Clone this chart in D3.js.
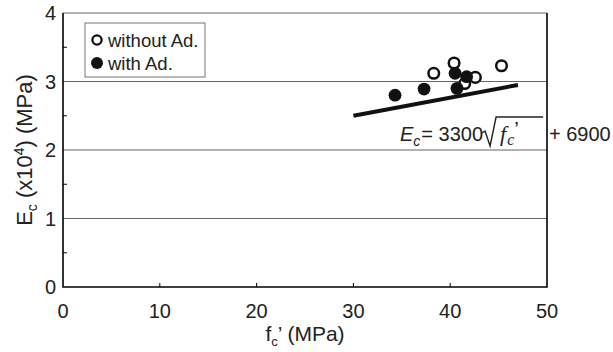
<!DOCTYPE html>
<html lang="en">
  <head>
    <meta charset="UTF-8" />
    <title>Ec vs fc'</title>
    <style>
      html, body { margin: 0; padding: 0; background: #fff; }
      svg { display: block; font-family: "Liberation Sans", Arial, sans-serif; }
    </style>
    <script src="https://cdn.jsdelivr.net/npm/d3@7"></script>
  </head>
  <body>
    <script>
      // values (fc' in MPa, Ec in x10^4 MPa)
      const openX = [38.3, 40.4, 41.5, 42.6, 45.3];
      const openY = [3.12, 3.27, 2.97, 3.06, 3.23];
      const filledX = [34.3, 37.3, 40.5, 40.7, 41.7];
      const filledY = [2.8, 2.89, 3.12, 2.9, 3.07];
      // Ec = 3300 sqrt(fc') + 6900, ends as drawn
      const fitX = [30, 47];
      const fitY = [2.5, 2.95];
      const xTicks = [0, 10, 20, 30, 40, 50];
      const yTicks = [0, 1, 2, 3, 4];
      const legendLabels = ["without Ad.", "with Ad."];

      const width = 613, height = 352;
      const margin = { top: 13, right: 66, bottom: 65, left: 63 };

      const svg = d3
        .select(document.body)
        .append("svg")
        .attr("width", width)
        .attr("height", height);

      const x = d3.scaleLinear().domain([0, 50]).range([margin.left, width - margin.right]);
      const y = d3.scaleLinear().domain([0, 4]).range([height - margin.bottom, margin.top]);

      // grid lines (incl. top border)
      svg
        .append("g")
        .selectAll("line")
        .data([1, 2, 3, 4])
        .join("line")
        .attr("x1", x(0))
        .attr("x2", x(50))
        .attr("y1", (d) => y(d))
        .attr("y2", (d) => y(d))
        .attr("stroke", "#666")
        .attr("stroke-width", 1);

      // minor ticks on y axis, pointing inward
      svg
        .append("g")
        .selectAll("line")
        .data([0.5, 1.5, 2.5, 3.5])
        .join("line")
        .attr("x1", x(0))
        .attr("x2", x(0) + 4)
        .attr("y1", (d) => y(d))
        .attr("y2", (d) => y(d))
        .attr("stroke", "#000");

      // x ticks, inward
      svg
        .append("g")
        .selectAll("line")
        .data([10, 20, 30, 40])
        .join("line")
        .attr("x1", (d) => x(d))
        .attr("x2", (d) => x(d))
        .attr("y1", y(0))
        .attr("y2", y(0) - 4)
        .attr("stroke", "#000");

      // frame: left, bottom, right
      svg
        .append("path")
        .attr("d", `M${x(0)},${y(4)}V${y(0)}H${x(50)}V${y(4)}`)
        .attr("fill", "none")
        .attr("stroke", "#000")
        .attr("stroke-width", 1.6);

      // tick labels
      svg
        .append("g")
        .attr("font-size", 20)
        .attr("fill", "#222")
        .selectAll("text")
        .data(xTicks)
        .join("text")
        .attr("x", (d) => x(d))
        .attr("y", y(0) + 31)
        .attr("text-anchor", "middle")
        .text((d) => d);

      svg
        .append("g")
        .attr("font-size", 20)
        .attr("fill", "#222")
        .selectAll("text")
        .data(yTicks)
        .join("text")
        .attr("x", x(0) - 7)
        .attr("y", (d) => y(d) + 7)
        .attr("text-anchor", "end")
        .text((d) => d);

      // axis titles
      const xt = svg
        .append("text")
        .attr("x", 305)
        .attr("y", 341)
        .attr("font-size", 21)
        .attr("text-anchor", "middle")
        .attr("fill", "#222");
      xt.append("tspan").text("f");
      xt.append("tspan").attr("font-size", 13).attr("dy", 5).text("c");
      xt.append("tspan").attr("dy", -5).text("’ (MPa)");

      const yt = svg
        .append("text")
        .attr("transform", `translate(32,${y(2)}) rotate(-90)`)
        .attr("font-size", 22)
        .attr("text-anchor", "middle")
        .attr("fill", "#222");
      yt.append("tspan").text("E");
      yt.append("tspan").attr("font-size", 14).attr("dy", 5).text("c");
      yt.append("tspan").attr("dy", -5).text(" (x10");
      yt.append("tspan").attr("font-size", 14).attr("dy", -8).text("4");
      yt.append("tspan").attr("dy", 8).text(") (MPa)");

      // fitted line
      svg
        .append("path")
        .datum(d3.zip(fitX, fitY))
        .attr("d", d3.line().x((d) => x(d[0])).y((d) => y(d[1])))
        .attr("stroke", "#111")
        .attr("stroke-width", 4)
        .attr("fill", "none");

      // points
      svg
        .append("g")
        .selectAll("circle")
        .data(d3.zip(openX, openY))
        .join("circle")
        .attr("cx", (d) => x(d[0]))
        .attr("cy", (d) => y(d[1]))
        .attr("r", 5.3)
        .attr("fill", "#fff")
        .attr("stroke", "#111")
        .attr("stroke-width", 2.5);

      svg
        .append("g")
        .selectAll("circle")
        .data(d3.zip(filledX, filledY))
        .join("circle")
        .attr("cx", (d) => x(d[0]))
        .attr("cy", (d) => y(d[1]))
        .attr("r", 6.4)
        .attr("fill", "#111");

      // legend
      const lg = svg.append("g").attr("transform", "translate(85,23)");
      lg.append("rect")
        .attr("width", 120)
        .attr("height", 54)
        .attr("fill", "#fff")
        .attr("stroke", "#777")
        .attr("stroke-width", 1);
      lg.selectAll("g.item")
        .data(legendLabels)
        .join("g")
        .attr("class", "item")
        .attr("transform", (d, i) => `translate(0,${17 + i * 23})`)
        .each(function (d, i) {
          const g = d3.select(this);
          if (i === 0) {
            g.append("circle").attr("cx", 12).attr("r", 4.6)
              .attr("fill", "#fff").attr("stroke", "#111").attr("stroke-width", 2.3);
          } else {
            g.append("circle").attr("cx", 12).attr("r", 6).attr("fill", "#111");
          }
          g.append("text")
            .attr("x", 23)
            .attr("y", 6.5)
            .attr("font-size", 18.5)
            .attr("fill", "#222")
            .text(d);
        });

      // equation
      const eq = svg.append("g").attr("fill", "#222");
      const base = 141;
      let cx = 400;
      const put = (str, opts = {}) => {
        const t = eq
          .append("text")
          .attr("x", cx)
          .attr("y", base + (opts.dy || 0))
          .attr("font-size", opts.size || 20)
          .attr("font-family", opts.family || null)
          .attr("font-style", opts.italic ? "italic" : null)
          .text(str);
        cx += t.node().getComputedTextLength() + (opts.gap || 0);
        return t;
      };
      put("E", { italic: true });
      put("c", { italic: true, size: 14, dy: 5, gap: 1 });
      put("= 3300 ", {});
      const rx = cx - 1;
      eq.append("path")
        .attr("d", `M${rx},${base - 8} L${rx + 3},${base - 10} L${rx + 8},${base + 5} L${rx + 14},${base - 24} H${rx + 61}`)
        .attr("fill", "none")
        .attr("stroke", "#222")
        .attr("stroke-width", 1.4);
      cx = rx + 18;
      put("f", { italic: true, family: "Liberation Serif", size: 22, gap: 1 });
      put("c", { italic: true, family: "Liberation Serif", size: 16, dy: 4 });
      put("’", { size: 21, dy: -5 });
      cx = 549;
      put("+ 6900", {});
    </script>
  </body>
</html>
